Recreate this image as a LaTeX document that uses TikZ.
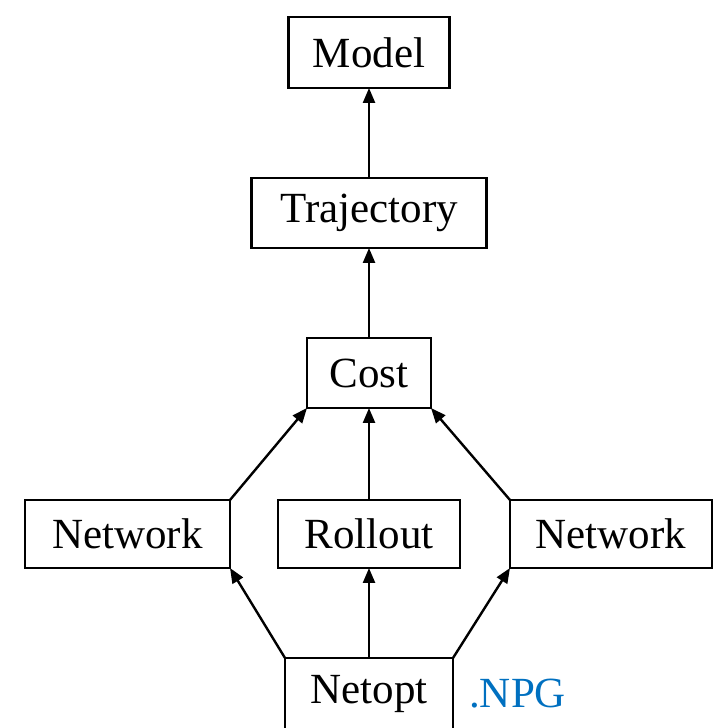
\documentclass[tikz,border=0pt]{standalone}
\usepackage{fontspec}
\setmainfont{Liberation Serif}
\usetikzlibrary{arrows.meta}
\definecolor{npgblue}{RGB}{0,112,192}
\begin{document}
\begin{tikzpicture}[x=1pt,y=1pt,
  box/.style={draw, line width=2.4pt, inner sep=0pt, outer sep=0pt, font=\fontsize{43}{50}\selectfont},
  arr/.style={line width=2.4pt, -{Triangle[length=15pt,width=12pt]}}]
\useasboundingbox (0,0) rectangle (722,728);
\node[box, minimum width=161pt, minimum height=71pt] (model) at (369,675.5) {Model};
\node[box, minimum width=235pt, minimum height=70pt] (traj) at (369,515) {Trajectory};
\node[box, minimum width=124pt, minimum height=70pt] (cost) at (369,355) {Cost};
\node[box, minimum width=205pt, minimum height=68pt] (net1) at (127.5,194) {Network};
\node[box, minimum width=182pt, minimum height=68pt] (roll) at (369,194) {Rollout};
\node[box, minimum width=202pt, minimum height=68pt] (net2) at (611,194) {Network};
\node[box, minimum width=168pt, minimum height=72pt] (netopt) at (369,34) {Netopt};
\node[anchor=west, inner sep=0pt, text=npgblue, font=\fontsize{43}{50}\selectfont] (npg) at (469,34) {.NPG};
\draw[arr] (traj) -- (model);
\draw[arr] (cost) -- (traj);
\draw[arr] (roll) -- (cost);
\draw[arr] (net1.north east) -- (cost.south west);
\draw[arr] (net2.north west) -- (cost.south east);
\draw[arr] (netopt) -- (roll);
\draw[arr] (netopt.north west) -- (net1.south east);
\draw[arr] (netopt.north east) -- (net2.south west);
\end{tikzpicture}
\end{document}
